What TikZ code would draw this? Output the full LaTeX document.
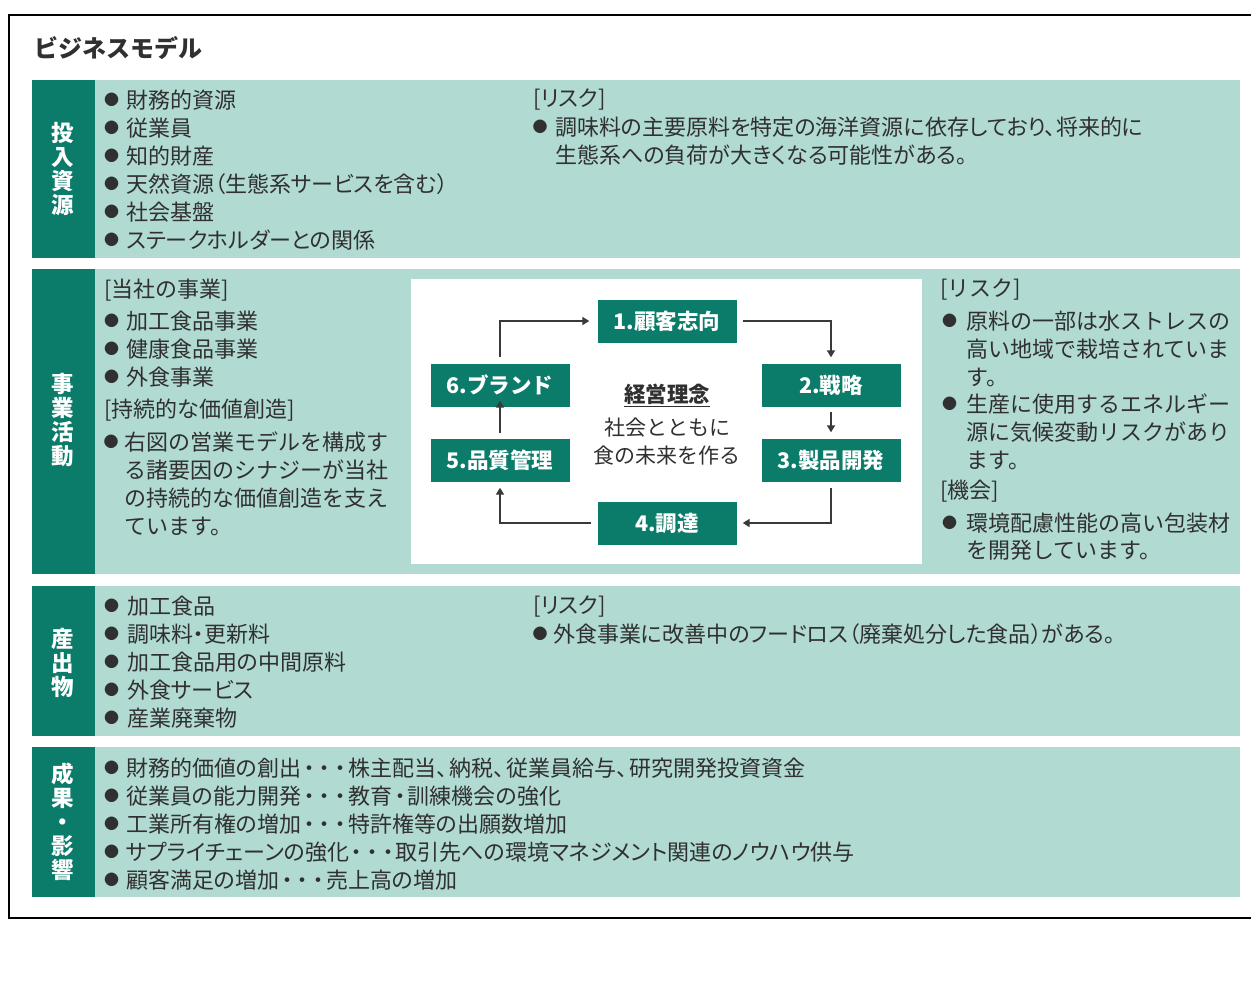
\documentclass[tikz,border=0pt]{standalone}
\usepackage{fontspec}
\setmainfont{Noto Sans CJK JP}[RawFeature=+palt]
\newfontfamily\fullw{Noto Sans CJK JP}
\usetikzlibrary{arrows.meta}
\definecolor{dkg}{HTML}{0B7B6A}
\definecolor{ltg}{HTML}{B0DAD2}
\definecolor{txt}{HTML}{303030}
\definecolor{arrc}{HTML}{3A3A3A}
\newcommand{\bitem}[5]{% name, bullet x, text x, y, text
  \node[bul] (#1b) at (#2,#4) {●};
  \node[tx] (#1) at (#3,#4) {#5};}
\newcommand{\titem}[4]{% name, text x, y, text
  \node[tx] (#1) at (#2,#3) {#4};}
\newcommand{\nkdot}{\kern2.3pt・\kern2.3pt}
\begin{document}
\begin{tikzpicture}[x=1pt,y=-1pt,
  tx/.style={anchor=west, inner sep=0pt, text=txt, font=\fontsize{22}{28}\selectfont},
  bul/.style={anchor=center, inner sep=0pt, text=txt, font=\fullw\fontsize{15}{15}\selectfont},
  lab/.style={align=center, text=white, inner sep=0pt, font=\fullw\fontsize{22.5}{24}\selectfont\bfseries},
  fnode/.style={fill=dkg, text=white, inner sep=0pt, minimum width=139pt, minimum height=43pt, font=\fullw\fontsize{21.5}{24}\selectfont\bfseries},
  ctext/.style={text=txt, inner sep=0pt, font=\fullw\fontsize{21}{24}\selectfont},
  arr/.style={draw=arrc, line width=2pt, -{Triangle[length=7pt,width=8pt]}}
]
\useasboundingbox (0,0) rectangle (1251,986);
\clip (0,0) rectangle (1251,986);
\fill[white] (0,0) rectangle (1251,986);
\draw[line width=2.2pt, black] (9,15) rectangle (1265,918);

\node[anchor=west, inner sep=0pt, text=txt, font=\fullw\fontsize{24}{28}\selectfont\bfseries] (title) at (34,48) {ビジネスモデル};

% ---- row 1
\fill[dkg] (32,80) rectangle (95,258);
\fill[ltg] (95,80) rectangle (1240,258);
\node[lab] (l1) at (63,169) {投\\入\\資\\源};
\bitem{a1}{111.5}{126}{100}{財務的資源}
\bitem{a2}{111.5}{126}{128}{従業員}
\bitem{a3}{111.5}{126}{156}{知的財産}
\bitem{a4}{111.5}{126}{184}{天然資源（生態系サービスを含む）}
\bitem{a5}{111.5}{126}{212}{社会基盤}
\bitem{a6}{111.5}{126}{240}{ステークホルダーとの関係}
\titem{ar}{533}{99}{[リスク]}
\bitem{ar1}{540}{555}{127}{調味料の主要原料を特定の海洋資源に依存しており、将来的に}
\titem{ar2}{555}{155}{生態系への負荷が大きくなる可能性がある。}

% ---- row 2
\fill[dkg] (32,269) rectangle (95,574);
\fill[ltg] (95,269) rectangle (1240,574);
\node[lab] (l2) at (63,420) {事\\業\\活\\動};
\begin{scope}[tx/.append style={font=\fullw\fontsize{22}{28}\selectfont}]
\titem{bh}{104}{290}{[当社の事業]}
\bitem{b1}{111.5}{126}{321}{加工食品事業}
\bitem{b2}{111.5}{126}{349}{健康食品事業}
\bitem{b3}{111.5}{126}{377}{外食事業}
\titem{bh2}{104}{410}{[持続的な価値創造]}
\bitem{b4}{111}{124}{442}{右図の営業モデルを構成す}
\titem{b5}{124}{470}{る諸要因のシナジーが当社}
\titem{b6}{124}{498}{の持続的な価値創造を支え}
\titem{b7}{124}{526}{ています。}

\titem{ch}{940}{289}{[リスク]}
\bitem{c1}{949.5}{966}{321}{原料の一部は水ストレスの}
\titem{c2}{966}{349}{高い地域で栽培されていま}
\titem{c3}{966}{377}{す。}
\bitem{c4}{949.5}{966}{404}{生産に使用するエネルギー}
\titem{c5}{966}{432}{源に気候変動リスクがあり}
\titem{c6}{966}{460}{ます。}
\titem{ch2}{940}{491}{[機会]}
\bitem{c7}{949.5}{966}{523}{環境配慮性能の高い包装材}
\titem{c8}{966}{550}{を開発しています。}
\end{scope}

\fill[white] (411,279) rectangle (922,564);
\node[fnode] (n1) at (667,321) {1.顧客志向};
\node[fnode] (n2) at (831,385) {2.戦略};
\node[fnode] (n3) at (831,460) {3.製品開発};
\node[fnode] (n4) at (667,523) {4.調達};
\node[fnode] (n5) at (500,460) {5.品質管理};
\node[fnode] (n6) at (500,385) {6.ブランド};
\node[ctext, font=\fullw\fontsize{21.5}{24}\selectfont\bfseries] (m1) at (667,395) {\underline{経営理念}};
\node[ctext] (m2) at (667,428) {社会とともに};
\node[ctext] (m3) at (667,456) {食の未来を作る};
\draw[arr] ([xshift=6pt]n1.east) -| ([yshift=6pt]n2.north);
\draw[arr] ([yshift=-5pt]n2.south) -- ([yshift=6pt]n3.north);
\draw[arr] ([yshift=-6pt]n3.south) |- ([xshift=6pt]n4.east);
\draw[arr] ([xshift=-6pt]n4.west) -| ([yshift=-6pt]n5.south);
\draw[arr] ([yshift=5pt]n5.north) -- ([yshift=6pt]n6.south);
\draw[arr] ([yshift=6pt]n6.north) |- ([xshift=-8pt]n1.west);

% ---- row 3
\fill[dkg] (32,586) rectangle (95,736);
\fill[ltg] (95,586) rectangle (1240,736);
\node[lab] (l3) at (63,663) {産\\出\\物};
\bitem{d1}{111.5}{127}{606}{加工食品}
\bitem{d2}{111.5}{127}{634}{調味料・更新料}
\bitem{d3}{111.5}{127}{662}{加工食品用の中間原料}
\bitem{d4}{111.5}{127}{690}{外食サービス}
\bitem{d5}{111.5}{127}{718}{産業廃棄物}
\titem{dr}{533}{606}{[リスク]}
\bitem{dr1}{540}{553}{634}{外食事業に改善中のフードロス（廃棄処分した食品）がある。}

% ---- row 4
\fill[dkg] (32,747) rectangle (95,897);
\fill[ltg] (95,747) rectangle (1240,897);
\node[lab] (l4) at (63,822) {成\\果\\・\\影\\響};
\bitem{e1}{111.5}{126}{768}{財務的価値の創出\nkdot\nkdot\nkdot 株主配当、\kern2pt 納税、\kern2pt 従業員給与、\kern2pt 研究開発投資資金}
\bitem{e2}{111.5}{126}{796}{従業員の能力開発\nkdot\nkdot\nkdot 教育\nkdot 訓練機会の強化}
\bitem{e3}{111.5}{126}{824}{工業所有権の増加\nkdot\nkdot\nkdot 特許権等の出願数増加}
\bitem{e4}{111.5}{126}{852}{サプライチェーンの強化\nkdot\nkdot\nkdot 取引先への環境マネジメント関連のノウハウ供与}
\bitem{e5}{111.5}{126}{880}{顧客満足の増加\nkdot\nkdot\nkdot 売上高の増加}
\end{tikzpicture}
\end{document}
